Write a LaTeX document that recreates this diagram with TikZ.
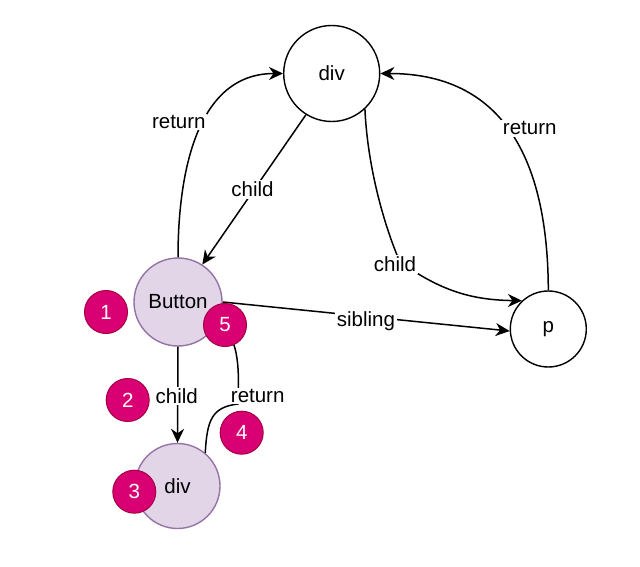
\documentclass[tikz,border=0pt]{standalone}
\usepackage{fontspec}
\setmainfont{Liberation Sans}
\usetikzlibrary{arrows.meta}
\definecolor{btnfill}{HTML}{E1D5E7}
\definecolor{btnline}{HTML}{9673A6}
\definecolor{badgefill}{HTML}{D80073}
\definecolor{badgeline}{HTML}{A50040}
\begin{document}
\begin{tikzpicture}[x=1pt,y=-1pt,
  every node/.style={font=\fontsize{20.5}{24}\selectfont},
  plain/.style={circle,draw=black,line width=1.4pt,fill=white,inner sep=0pt},
  comp/.style={circle,draw=btnline,line width=1.4pt,fill=btnfill,inner sep=0pt},
  badge/.style={circle,draw=badgeline,line width=1pt,fill=badgefill,text=white,inner sep=0pt,minimum size=43pt},
  edge/.style={draw=black,line width=1.5pt,-{Stealth[length=14pt,width=13pt,inset=4.5pt]}},
  lbl/.style={fill=white,inner sep=1.5pt}]
\useasboundingbox (0,0) rectangle (640,567);
% nodes
\node[plain,minimum size=96pt] (top) at (331.7,73.5) {div};
\node[comp,minimum size=88pt] (btn) at (178,302) {Button};
\node[plain,minimum size=76pt] (p) at (548.3,329) {p};
\node[comp,minimum size=85pt] (low) at (177.5,486) {div};
% edges
\draw[edge] (top.238) -- (btn.57);
\draw[edge] (btn.north) .. controls (178,185) and (192,73.5) .. (top.west);
\draw[edge] (p.north) .. controls (548,170) and (510,73.5) .. (top.east);
\draw[edge] (top.-47) .. controls (368,175) and (388,235) .. (400,262)
  .. controls (440,290) and (470,300) .. (p.133);
\draw[edge] (btn.east) -- (p.183);
\draw[edge] (btn.south) -- (low.north);
\draw[edge] (low.50) .. controls (207,420) and (212,407) .. (238,404)
  .. controls (240,360) and (236,335) .. (btn.-38);
% labels
\node[lbl] (l1) at (252.5,189.5) {child};
\node[lbl] (l2) at (178.8,122) {return};
\node[lbl] (l3) at (529.7,128.3) {return};
\node[lbl] (l4) at (395,264.5) {child};
\node[lbl] (l5) at (366,321) {sibling};
\node[lbl] (l6) at (176.7,396) {child};
\node[lbl] (l7) at (257.7,396) {return};
% badges
\node[badge] (b1) at (106,312) {1};
\node[badge] (b2) at (127.7,400) {2};
\node[badge] (b3) at (134.3,491.7) {3};
\node[badge] (b4) at (241.7,432.7) {4};
\node[badge] (b5) at (225,325) {5};
\end{tikzpicture}
\end{document}
